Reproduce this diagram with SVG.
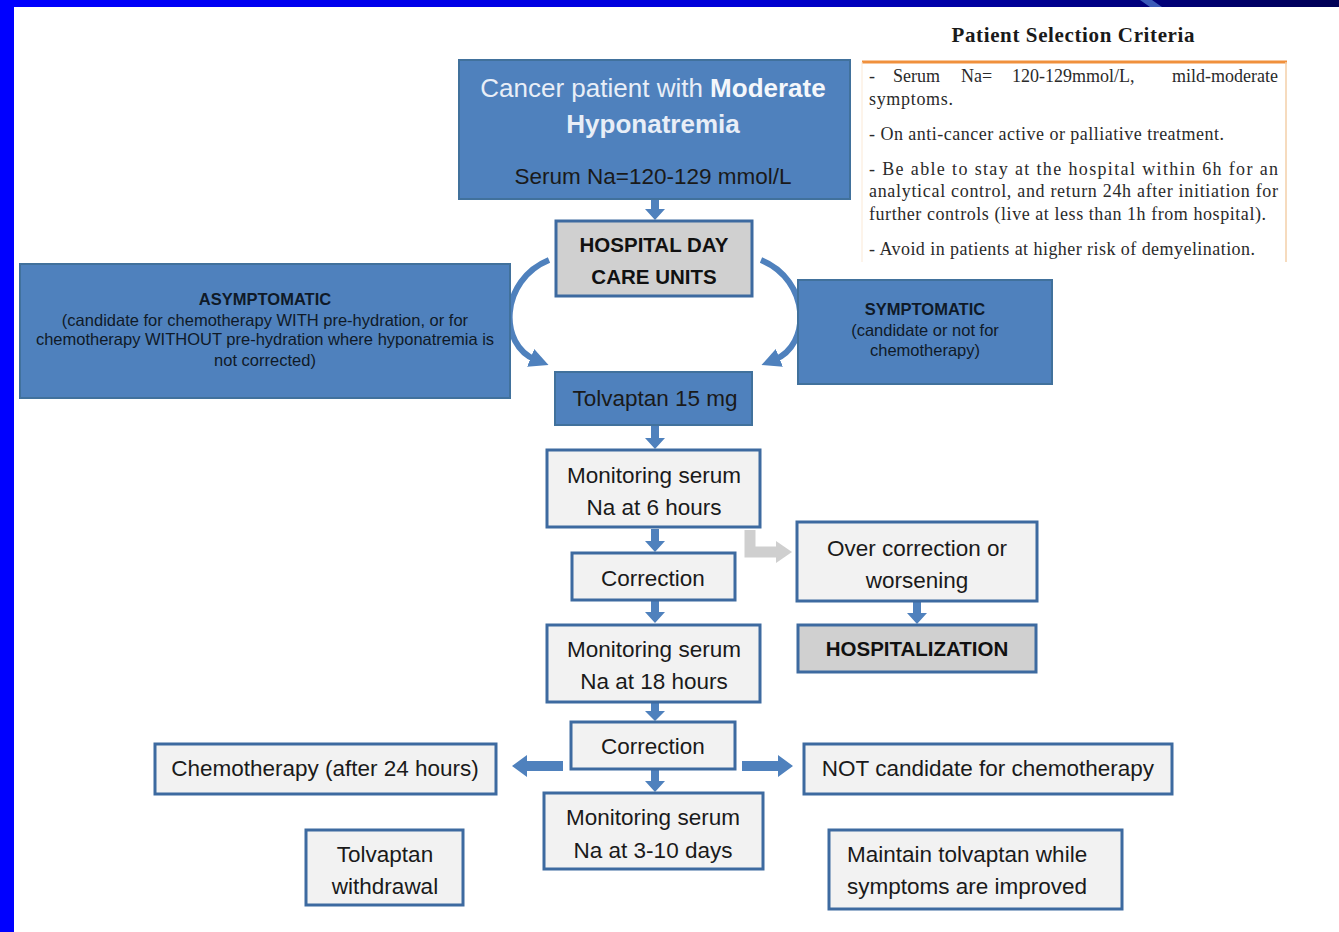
<svg xmlns="http://www.w3.org/2000/svg" width="1339" height="932" viewBox="0 0 1339 932">
<defs>
<linearGradient id="topband" x1="0" y1="0" x2="1" y2="0">
<stop offset="0" stop-color="#0000ff"/>
<stop offset="0.55" stop-color="#0000d8"/>
<stop offset="0.8" stop-color="#00008a"/>
<stop offset="1" stop-color="#000055"/>
</linearGradient>
<marker id="curvehead" viewBox="0 0 10 10" refX="3" refY="5" markerWidth="3.2" markerHeight="3.2" orient="auto" markerUnits="strokeWidth">
<path d="M0,0 L10,5 L0,10 Z" fill="#4f81bd"/>
</marker>
<style>
.blue{fill:#4f81bd;stroke:#41719c;stroke-width:2}
.light{fill:#f2f2f2;stroke:#3d6aa0;stroke-width:3}
.grey{fill:#d0d0d0;stroke:#3d6aa0;stroke-width:3}
.t{font-family:"Liberation Sans",Arial,sans-serif;font-size:22.5px;fill:#1a1a1a;text-anchor:middle}
.tl{font-family:"Liberation Sans",Arial,sans-serif;font-size:22.5px;fill:#1a1a1a;text-anchor:start}
.tb{font-family:"Liberation Sans",Arial,sans-serif;font-size:20.5px;font-weight:bold;fill:#111;text-anchor:middle}
.s{font-family:"Liberation Sans",Arial,sans-serif;font-size:16.5px;fill:#0f1a28;text-anchor:middle}
.sb{font-family:"Liberation Sans",Arial,sans-serif;font-size:16.5px;font-weight:bold;fill:#0f1a28;text-anchor:middle}
.w{font-family:"Liberation Sans",Arial,sans-serif;font-size:26px;fill:#e8eef7;text-anchor:middle}
.c{font-family:"Liberation Serif","Times New Roman",serif;font-size:18px;fill:#2a2a2a}
.ct{font-family:"Liberation Serif","Times New Roman",serif;font-size:21px;font-weight:bold;fill:#1a1a1a;text-anchor:middle}
.arr{fill:#4f81bd}
.curve{fill:none;stroke:#4f81bd;stroke-width:6;marker-end:url(#curvehead)}
</style>
</defs>
<rect x="0" y="0" width="1339" height="932" fill="#ffffff"/>
<rect x="0" y="0" width="1339" height="7" fill="url(#topband)"/>
<polygon points="1140,0 1152,0 1162,7 1150,7" fill="#3a5ab8"/>
<rect x="0" y="0" width="14" height="932" fill="#0000ff"/>

<g id="criteria">
<text class="ct" x="1073" y="42" textLength="243" lengthAdjust="spacing">Patient Selection Criteria</text>
<line x1="862" y1="62" x2="1287" y2="62" stroke="#f0903c" stroke-width="3"/>
<line x1="1286" y1="62" x2="1286" y2="262" stroke="#f3cfa8" stroke-width="1.5"/>
<line x1="862" y1="62" x2="862" y2="262" stroke="#fbe9d6" stroke-width="1"/>
<text class="c" y="82"><tspan x="869">-</tspan><tspan x="893">Serum</tspan><tspan x="961">Na=</tspan><tspan x="1012">120-129mmol/L,</tspan><tspan x="1172">mild-moderate</tspan></text>
<text class="c" x="869" y="105" textLength="84" lengthAdjust="spacing">symptoms.</text>
<text class="c" x="869" y="140" textLength="355" lengthAdjust="spacing">- On anti-cancer active or palliative treatment.</text>
<text class="c" x="869" y="175" textLength="409" lengthAdjust="spacing">- Be able to stay at the hospital within 6h for an</text>
<text class="c" x="869" y="197" textLength="409" lengthAdjust="spacing">analytical control, and return 24h after initiation for</text>
<text class="c" x="869" y="220" textLength="397" lengthAdjust="spacing">further controls (live at less than 1h from hospital).</text>
<text class="c" x="869" y="255" textLength="386" lengthAdjust="spacing">- Avoid in patients at higher risk of demyelination.</text>
</g>

<g id="connectors">
<polygon class="arr" points="651,199 659,199 659,209 665,209 655,220 645,209 651,209"/>
<path class="curve" d="M 549 260 C 500 280, 498 345, 536 360"/>
<path class="curve" d="M 761 260 C 810 280, 812 345, 774 360"/>
<polygon class="arr" points="651,425 659,425 659,438 665,438 655,449 645,438 651,438"/>
<polygon class="arr" points="651,529 659,529 659,541 665,541 655,552 645,541 651,541"/>
<polygon class="arr" points="651,600 659,600 659,612 665,612 655,623 645,612 651,612"/>
<polygon class="arr" points="913,601 921,601 921,613 927,613 917,624 907,613 913,613"/>
<polygon class="arr" points="651,702 659,702 659,711 665,711 655,721 645,711 651,711"/>
<polygon class="arr" points="651,769 659,769 659,781 665,781 655,792 645,781 651,781"/>
<polygon class="arr" points="563,761 563,771 527,771 527,777 512,766 527,755 527,761"/>
<polygon class="arr" points="742,761 742,771 778,771 778,777 793,766 778,755 778,761"/>
<path d="M 750 530 L 750 552 L 778 552" fill="none" stroke="#cfcfcf" stroke-width="11"/>
<polygon points="776,541 792,552 776,563" fill="#cfcfcf"/>
</g>

<g id="n-top">
<rect class="blue" x="459" y="60" width="391" height="139"/>
<text class="w" x="653" y="97">Cancer patient with <tspan font-weight="bold" fill="#f4f7fb">Moderate</tspan></text>
<text class="w" x="653" y="133" font-weight="bold" fill="#f4f7fb">Hyponatremia</text>
<text class="t" x="653" y="184" fill="#0f1a28" font-size="22px">Serum Na=120-129 mmol/L</text>
</g>

<g id="n-hospital">
<rect class="grey" x="556" y="221" width="196" height="75"/>
<text class="tb" x="654" y="252">HOSPITAL DAY</text>
<text class="tb" x="654" y="284">CARE UNITS</text>
</g>

<g id="n-asymptomatic">
<rect class="blue" x="20" y="264" width="490" height="134"/>
<text class="sb" x="265" y="305">ASYMPTOMATIC</text>
<text class="s" x="265" y="326">(candidate for chemotherapy WITH pre-hydration, or for</text>
<text class="s" x="265" y="345">chemotherapy WITHOUT pre-hydration where hyponatremia is</text>
<text class="s" x="265" y="366">not corrected)</text>
</g>

<g id="n-symptomatic">
<rect class="blue" x="798" y="280" width="254" height="104"/>
<text class="sb" x="925" y="315">SYMPTOMATIC</text>
<text class="s" x="925" y="336">(candidate or not for</text>
<text class="s" x="925" y="356">chemotherapy)</text>
</g>

<g id="n-tolvaptan">
<rect class="blue" x="555" y="372" width="197" height="53"/>
<text class="t" x="655" y="406" fill="#0f1a28">Tolvaptan 15 mg</text>
</g>

<g id="n-mon6">
<rect class="light" x="547" y="450" width="213" height="77"/>
<text class="t" x="654" y="483">Monitoring serum</text>
<text class="t" x="654" y="515">Na at 6 hours</text>
</g>

<g id="n-corr1">
<rect class="light" x="572" y="553" width="163" height="47"/>
<text class="t" x="653" y="586">Correction</text>
</g>

<g id="n-over">
<rect class="light" x="797" y="522" width="240" height="79"/>
<text class="t" x="917" y="556">Over correction or</text>
<text class="t" x="917" y="588">worsening</text>
</g>

<g id="n-hosp">
<rect class="grey" x="798" y="625" width="238" height="47"/>
<text class="tb" x="917" y="656">HOSPITALIZATION</text>
</g>

<g id="n-mon18">
<rect class="light" x="547" y="625" width="213" height="77"/>
<text class="t" x="654" y="657">Monitoring serum</text>
<text class="t" x="654" y="689">Na at 18 hours</text>
</g>

<g id="n-corr2">
<rect class="light" x="571" y="722" width="164" height="47"/>
<text class="t" x="653" y="754">Correction</text>
</g>

<g id="n-chemo">
<rect class="light" x="155" y="744" width="341" height="50"/>
<text class="t" x="325" y="776">Chemotherapy (after 24 hours)</text>
</g>

<g id="n-notcand">
<rect class="light" x="804" y="744" width="368" height="50"/>
<text class="t" x="988" y="776">NOT candidate for chemotherapy</text>
</g>

<g id="n-mon310">
<rect class="light" x="544" y="793" width="219" height="76"/>
<text class="t" x="653" y="825">Monitoring serum</text>
<text class="t" x="653" y="858">Na at 3-10 days</text>
</g>

<g id="n-withdraw">
<rect class="light" x="306" y="830" width="157" height="75"/>
<text class="t" x="385" y="862">Tolvaptan</text>
<text class="t" x="385" y="894">withdrawal</text>
</g>

<g id="n-maintain">
<rect class="light" x="829" y="830" width="293" height="79"/>
<text class="tl" x="847" y="862">Maintain tolvaptan while</text>
<text class="tl" x="847" y="894">symptoms are improved</text>
</g>
</svg>
